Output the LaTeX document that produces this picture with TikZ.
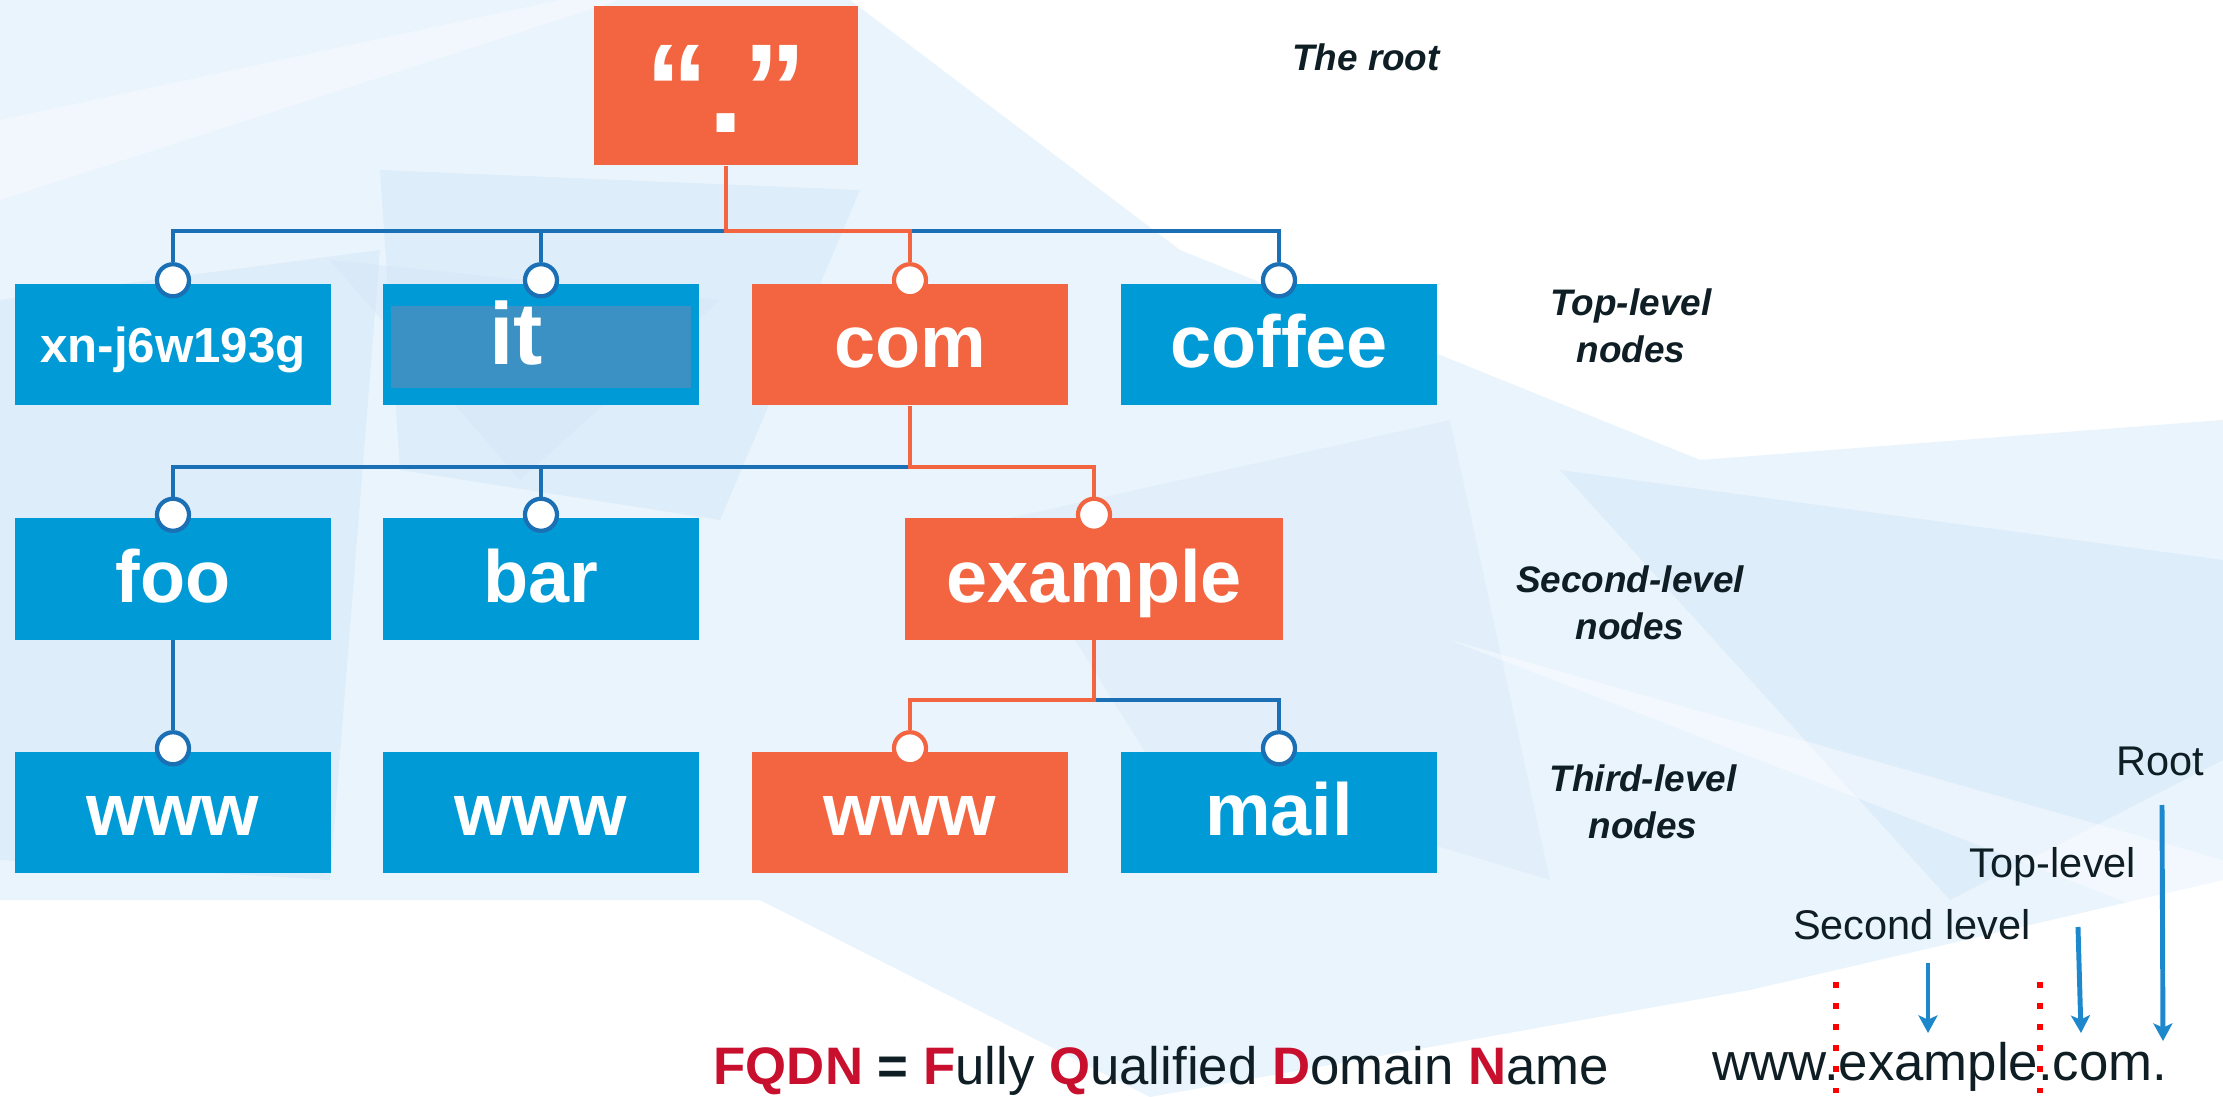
\documentclass[tikz,border=0pt]{standalone}
\usepackage{fontspec}
\setmainfont{Liberation Sans}
\usetikzlibrary{calc,arrows.meta}

\definecolor{boxblue}{RGB}{0,155,214}
\definecolor{boxorange}{RGB}{242,101,64}
\definecolor{wireblue}{RGB}{27,111,181}
\definecolor{itshade}{RGB}{60,145,196}
\definecolor{fqdnred}{RGB}{200,16,46}
\definecolor{inkdark}{RGB}{14,30,36}
\definecolor{arrowblue}{RGB}{30,136,204}
\definecolor{bgpale}{RGB}{234,244,252}
\definecolor{bgmid}{RGB}{222,237,250}
\definecolor{bgdeep}{RGB}{210,228,247}
\newcommand{\boxfont}{\fontsize{21}{24}\selectfont\bfseries}
\newcommand{\levelfont}{\fontsize{10.5}{13.5}\selectfont\bfseries\itshape}
\newcommand{\partfont}{\fontsize{11.8}{14}\selectfont}
\newcommand{\fqdnfont}{\fontsize{15}{18}\selectfont}
\newcommand{\redl}[1]{\textcolor{fqdnred}{\bfseries #1}}

\begin{document}
\begin{tikzpicture}[x=0.01cm,y=-0.01cm,
    dnsbox/.style={fill=boxblue, text=white, inner sep=0pt, minimum width=3.16cm,
      minimum height=1.21cm, text height=0.46cm, text depth=0pt, font=\boxfont},
    hot/.style={fill=boxorange},
    knob/.style={circle, draw=wireblue, fill=white, line width=1.2pt,
      minimum size=0.32cm, inner sep=0pt},
    hotknob/.style={knob, draw=boxorange},
    wire/.style={draw=wireblue, line width=1pt},
    hotwire/.style={draw=boxorange, line width=1pt},
    levelname/.style={font=\levelfont, text=inkdark, align=center, inner sep=0pt},
    partname/.style={font=\partfont, text=inkdark, anchor=base, inner sep=0pt},
    partarrow/.style={draw=arrowblue, line width=1.4pt,
      -{Stealth[length=5pt,width=5.4pt,inset=1.2pt]}},
    cutline/.style={draw=red, line width=1.7pt, dash pattern=on 1.7pt off 4.3pt}]

  \useasboundingbox (0,0) rectangle (2223,1097);
  \fill[white] (0,0) rectangle (2223,1097);
  % pale facets behind the tree
  \fill[bgpale] (0,0) -- (850,0) -- (1180,250) -- (1700,460) -- (2223,420)
    -- (2223,880) -- (1750,990) -- (1150,1097) -- (760,900) -- (0,900) -- cycle;
  \fill[bgmid] (0,300) -- (380,250) -- (330,880) -- (0,860) -- cycle;
  \fill[bgmid] (380,170) -- (860,190) -- (720,520) -- (400,470) -- cycle;
  \fill[bgdeep, opacity=.4] (330,260) -- (720,300) -- (520,480) -- cycle;
  \fill[bgmid] (1560,470) -- (2223,560) -- (2223,760) -- (1950,900) -- cycle;
  \fill[bgmid, opacity=.6] (1000,520) -- (1450,420) -- (1550,880) -- (1150,760) -- cycle;
  \fill[white, opacity=.35] (0,120) -- (560,0) -- (620,0) -- (0,200) -- cycle;
  \fill[white, opacity=.4] (1450,640) -- (2223,860) -- (2223,940) -- cycle;

  % root and top-level nodes
  \node (root) at (726,85.5) [dnsbox, hot, minimum width=2.64cm, minimum height=1.59cm,
    text height=0.93cm, font=\fontsize{36}{40}\selectfont\bfseries] {“.”};
  \node (xn) at (173,344.5) [dnsbox, text height=0.35cm,
    font=\fontsize{14}{16}\selectfont\bfseries] {xn-j6w193g};
  \node (it) at (541,344.5) [dnsbox] {};
  \node (itshadow) at (541,347) [fill=itshade, minimum width=3cm, minimum height=0.82cm,
    inner sep=0pt] {};
  \node (itname) at (516,365) [anchor=base, inner sep=0pt, text=white,
    font=\fontsize{25}{28}\selectfont\bfseries] {it};
  \node (com) at (910,344.5) [dnsbox, hot] {com};
  \node (coffee) at (1279,344.5) [dnsbox] {coffee};

  % second and third level
  \node (foo) at (173,579) [dnsbox] {foo};
  \node (bar) at (541,579) [dnsbox] {bar};
  \node (example) at (1094,579) [dnsbox, hot, minimum width=3.78cm] {example};
  \node (wwwa) at (173,812.5) [dnsbox] {www};
  \node (wwwb) at (541,812.5) [dnsbox] {www};
  \node (wwwc) at (910,812.5) [dnsbox, hot] {www};
  \node (mail) at (1279,812.5) [dnsbox] {mail};

  % knobs on top edges
  \node (kxn) at ($(xn.north)+(0,-3)$) [knob] {};
  \node (kit) at ($(it.north)+(0,-3)$) [knob] {};
  \node (kcom) at ($(com.north)+(0,-3)$) [hotknob] {};
  \node (kcoffee) at ($(coffee.north)+(0,-3)$) [knob] {};
  \node (kfoo) at ($(foo.north)+(0,-3)$) [knob] {};
  \node (kbar) at ($(bar.north)+(0,-3)$) [knob] {};
  \node (kexample) at ($(example.north)+(0,-3)$) [hotknob] {};
  \node (kwwwa) at ($(wwwa.north)+(0,-3)$) [knob] {};
  \node (kwwwc) at ($(wwwc.north)+(0,-3)$) [hotknob] {};
  \node (kmail) at ($(mail.north)+(0,-3)$) [knob] {};

  \coordinate (tlbar) at (726,231);
  \coordinate (slbar) at (910,467);
  \coordinate (thbar) at (1094,700);
  \draw[wire] (kxn.north) |- (tlbar) -| (kcoffee.north)
    (kit.north) -- (kit.north |- tlbar);
  \draw[hotwire] (root.south) -- (tlbar) -| (kcom.north);
  \draw[wire] (kfoo.north) |- (slbar)
    (kbar.north) -- (kbar.north |- slbar)
    (foo.south) -- (kwwwa.north);
  \draw[hotwire] (com.south) -- (slbar) -| (kexample.north);
  \draw[wire] (thbar) -| (kmail.north);
  \draw[hotwire] (example.south) -- (thbar) -| (kwwwc.north);

  % level notes
  \node (rootnote) at (1366,71) [levelname, anchor=base] {The root};
  \node (topnote) at (1631,326) [levelname] {Top-level\\nodes};
  \node (secondnote) at (1630,603) [levelname] {Second-level\\nodes};
  \node (thirdnote) at (1643,802) [levelname] {Third-level\\nodes};

  % fqdn
  \node (fqdn) at (713,1084) [anchor=base west, inner sep=0pt, font=\fqdnfont, text=inkdark]
    {\redl{FQDN} \textbf{=} \redl{F}ully \redl{Q}ualified \redl{D}omain \redl{N}ame};
  \node (fqdnex) at (1712,1080) [anchor=base west, inner sep=0pt, font=\fqdnfont,
    text=inkdark] {www.example.com.};
  \node (rootpart) at (2160,775) [partname] {Root};
  \node (toppart) at (2053,877) [partname] {Top-level};
  \node (secondpart) at (1912,939) [partname] {Second level};
  \coordinate (secondtail) at (1928,963);
  \coordinate (secondtip) at (1928,1033);
  \coordinate (toptail) at (2078,927);
  \coordinate (toptip) at (2081,1033);
  \coordinate (roottail) at (2162,805);
  \coordinate (roottip) at (2163,1041);
  \draw[partarrow] (secondtail) -- (secondtip);
  \draw[partarrow] (toptail) -- (toptip);
  \draw[partarrow] (roottail) -- (roottip);
  \coordinate (cuta) at (1836,982);
  \coordinate (cutaend) at (1836,1097);
  \coordinate (cutb) at (2040,982);
  \coordinate (cutbend) at (2040,1097);
  \draw[cutline] (cuta) -- (cutaend);
  \draw[cutline] (cutb) -- (cutbend);
\end{tikzpicture}
\end{document}
